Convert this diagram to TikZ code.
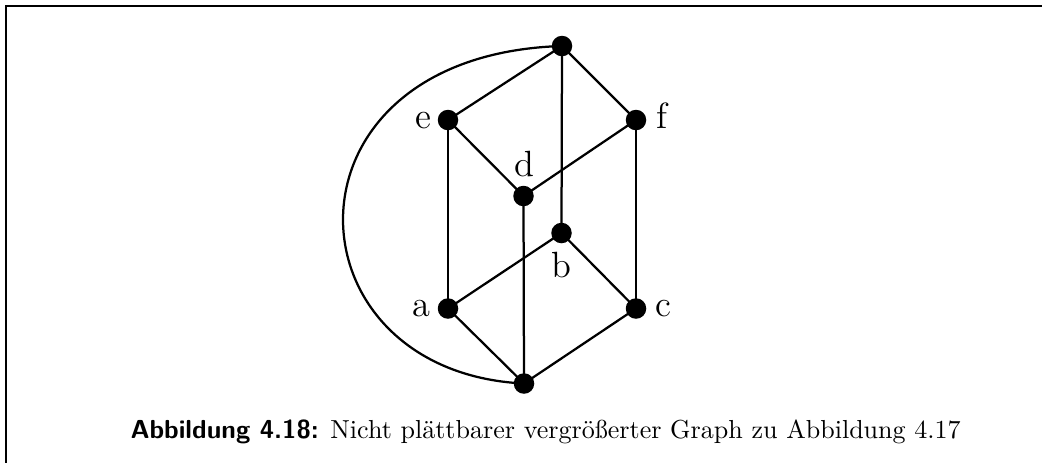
\documentclass[tikz,border=0pt]{standalone}
\usepackage{fontspec}
\begin{document}
\begin{tikzpicture}[x=0.4pt,y=-0.4pt,
  dot/.style={circle,fill=black,inner sep=0pt,minimum size=8.2pt},
  edge/.style={line width=0.9pt},
  lbl/.style={font=\fontsize{14.6}{17}\selectfont,inner sep=0pt,anchor=base}]
\useasboundingbox (0,0) rectangle (1042,462);
\draw[line width=0.92pt] (6,470) -- (6,6) -- (1050,6);
% vertices
\coordinate (T) at (562,46);
\coordinate (E) at (448,120);
\coordinate (F) at (636,120);
\coordinate (D) at (523.5,196);
\coordinate (B) at (561.5,233);
\coordinate (A) at (448,308.5);
\coordinate (C) at (636,308.5);
\coordinate (U) at (524,383.5);
% edges
\draw[edge] (T) -- (E);
\draw[edge] (T) -- (F);
\draw[edge] (T) -- (B);
\draw[edge] (E) -- (D);
\draw[edge] (F) -- (D);
\draw[edge] (E) -- (A);
\draw[edge] (F) -- (C);
\draw[edge] (D) -- (U);
\draw[edge] (B) -- (A);
\draw[edge] (B) -- (C);
\draw[edge] (A) -- (U);
\draw[edge] (C) -- (U);
\draw[edge] (T) .. controls (270,55) and (283,372) .. (U);
% dots
\foreach \n in {T,E,F,D,B,A,C,U} \node[dot] (n\n) at (\n) {};
% labels
\node[lbl] (le) at (423,128.5) {e};
\node[lbl] (lf) at (662,128.5) {f};
\node[lbl] (ld) at (524,176.7) {d};
\node[lbl] (lb) at (561.7,277.7) {b};
\node[lbl] (la) at (421,316.7) {a};
\node[lbl] (lc) at (663.5,316.7) {c};
% caption
\node[anchor=base west,inner sep=0pt,font=\fontsize{10.42}{12.5}\selectfont] (cap) at (130,438)
  {{\sffamily\bfseries Abbildung 4.18:} Nicht plättbarer vergrößerter Graph zu Abbildung 4.17};
\end{tikzpicture}
\end{document}
